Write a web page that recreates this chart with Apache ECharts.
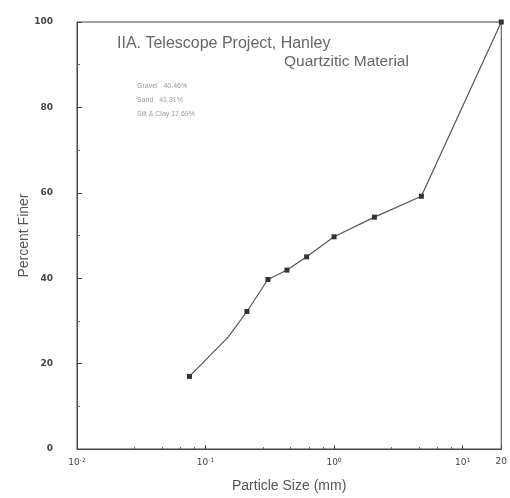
<!DOCTYPE html>
<html>
<head>
<meta charset="utf-8">
<script src="https://cdn.jsdelivr.net/npm/echarts@6/dist/echarts.min.js"></script>
<style>html,body{margin:0;padding:0;background:#fff;}#c{width:510px;height:498px;}</style>
</head>
<body>
<div id="c"></div>
<script>
// Particle size (mm) and percent finer
var sizes   = [0.075, 0.150, 0.210, 0.306, 0.430, 0.612, 1.00, 2.06, 4.78, 20];
var finer   = [17.0,  26.2,  32.2,  39.7,  41.9,  45.0,  49.7, 54.3, 59.2, 100];
var marked  = [true,  false, true,  true,  true,  true,  true, true, true, true];
var yTicks  = [0, 20, 40, 60, 80, 100];
var title1  = 'IIA. Telescope Project, Hanley';
var title2  = 'Quartzitic Material';
var notes   = ['Gravel   40.46%', 'Sand   41.31%', 'Silt & Clay 17.69%'];

var data = sizes.map(function (s, i) {
  var d = { value: [s, finer[i]] };
  if (!marked[i]) d.symbol = 'none';
  return d;
});

var chart = echarts.init(document.getElementById('c'));
chart.setOption({
  animation: false,
  backgroundColor: '#fff',
  grid: { left: 77, right: 4, top: 22, bottom: 48, show: true, borderColor: '#444', borderWidth: 1 },
  xAxis: {
    type: 'log', logBase: 10, min: 0.01, max: 20,
    name: 'Particle Size (mm)', nameLocation: 'middle', nameGap: 30,
    nameTextStyle: { color: '#555', fontSize: 14, fontFamily: 'Liberation Sans' },
    axisLine: { lineStyle: { color: '#444' } },
    axisTick: { inside: true, length: 4, lineStyle: { color: '#444' } },
    minorTick: { show: true, splitNumber: 5, length: 2, lineStyle: { color: '#666' } },
    splitLine: { show: false },
    axisLabel: {
      margin: 8, color: '#444', fontSize: 9, fontFamily: 'DejaVu Sans',
      showMaxLabel: true,
      formatter: function (v) {
        var e = Math.log10(v);
        var r = Math.round(e);
        if (Math.abs(e - r) < 1e-6) return '10{s|' + r + '}';
        return String(Math.round(v));
      },
      rich: { s: { fontSize: 6, verticalAlign: 'top', padding: [0, 0, 6, 0], color: '#444' } }
    }
  },
  yAxis: {
    type: 'value', min: 0, max: 100, interval: 20,
    name: 'Percent Finer', nameLocation: 'middle', nameGap: 46, nameMoveOverlap: false,
    nameTextStyle: { color: '#555', fontSize: 14, fontFamily: 'Liberation Sans' },
    axisLine: { lineStyle: { color: '#444' } },
    axisTick: { inside: true, length: 5, lineStyle: { color: '#444' } },
    minorTick: { show: true, splitNumber: 2, length: 3, lineStyle: { color: '#666' } },
    splitLine: { show: false },
    axisLabel: { margin: 24, color: '#444', fontSize: 9, fontWeight: 'bold', fontFamily: 'DejaVu Sans',
      formatter: function (v) { return yTicks.indexOf(v) >= 0 ? String(v) : ''; } }
  },
  series: [{
    type: 'line', data: data, smooth: false,
    symbol: 'rect', symbolSize: 5,
    lineStyle: { color: '#555', width: 1.2 },
    itemStyle: { color: '#333' }
  }],
  graphic: [
    { type: 'text', left: 117, top: 36, style: { text: title1, fill: '#666', fontSize: 16, fontFamily: 'Liberation Sans' } },
    { type: 'text', left: 284, top: 54, style: { text: title2, fill: '#666', fontSize: 15.5, fontFamily: 'Liberation Sans' } },
    { type: 'text', left: 137, top: 83, style: { text: notes[0], fill: '#999', fontSize: 7, fontFamily: 'Liberation Sans' } },
    { type: 'text', left: 137, top: 97, style: { text: notes[1], fill: '#999', fontSize: 7, fontFamily: 'Liberation Sans' } },
    { type: 'text', left: 137, top: 111, style: { text: notes[2], fill: '#999', fontSize: 7, fontFamily: 'Liberation Sans' } }
  ]
});
</script>
</body>
</html>
